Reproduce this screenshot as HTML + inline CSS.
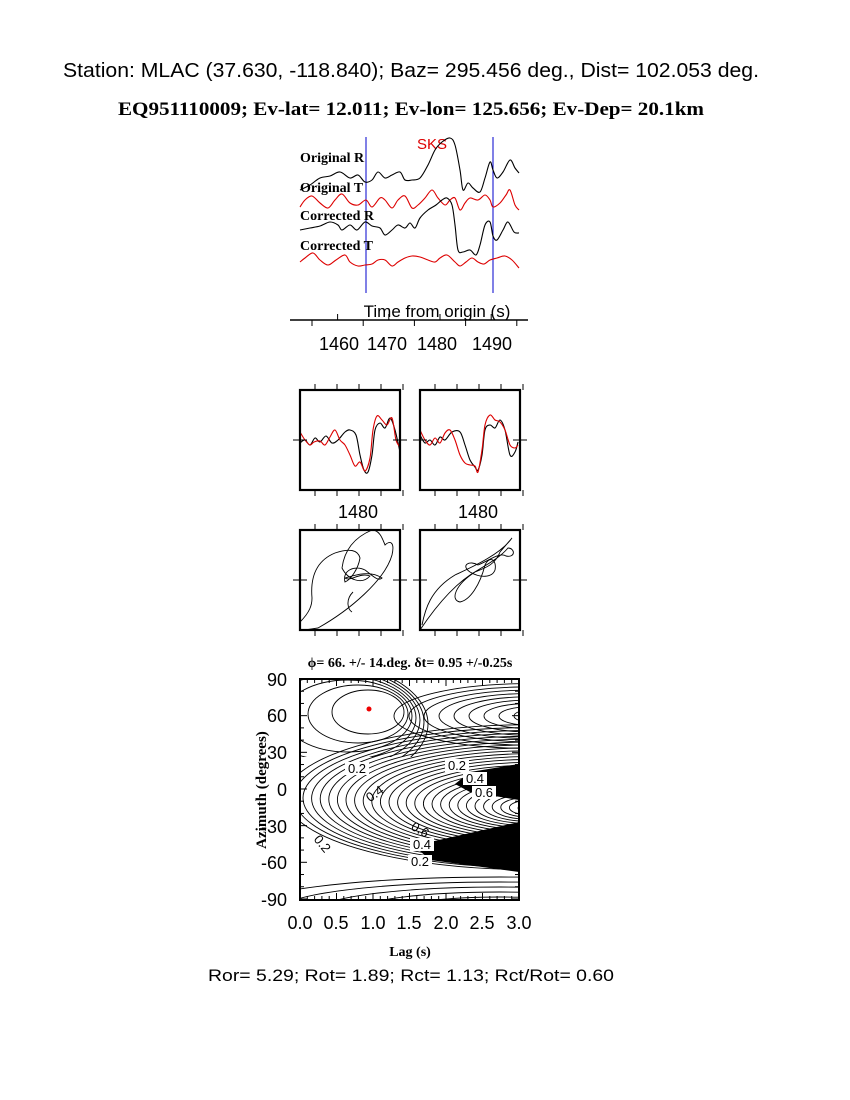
<!DOCTYPE html>
<html><head><meta charset="utf-8"><style>
html,body{margin:0;padding:0;background:#fff;width:850px;height:1100px;overflow:hidden}
svg{display:block}
.s{font-family:"Liberation Sans",sans-serif}
.r{font-family:"Liberation Serif",serif;font-weight:bold}
</style></head><body>
<svg id="g" width="850" height="1100" xmlns="http://www.w3.org/2000/svg">
<text class="s" x="411" y="77" font-size="20" text-anchor="middle" textLength="696" lengthAdjust="spacingAndGlyphs">Station: MLAC (37.630, -118.840); Baz=  295.456 deg., Dist=  102.053 deg.</text>
<text class="r" x="411" y="115" font-size="19" text-anchor="middle" textLength="586" lengthAdjust="spacingAndGlyphs">EQ951110009; Ev-lat=  12.011; Ev-lon= 125.656; Ev-Dep= 20.1km</text>

<line x1="366" y1="137" x2="366" y2="293" stroke="#00c" stroke-width="1"/>
<line x1="493" y1="137" x2="493" y2="293" stroke="#00c" stroke-width="1"/>
<text class="s" x="432" y="149" font-size="15" fill="#d00" text-anchor="middle">SKS</text>
<g fill="none" stroke-width="1.1">
<polyline class="sm" stroke="#000" points="300,190 310,185 320,178 330,176 340,172 350,178 358,175 365,182 372,180 378,172 385,178 392,175 400,172 405,180 412,180 420,178 428,165 435,150 442,142 450,138 455,145 460,170 463,190 468,183 473,188 480,192 485,178 490,162 493,170 497,178 503,172 510,160 515,168 519,173"/>
<polyline class="sm" stroke="#d00" points="300,207 305,200 312,196 320,203 328,208 335,200 342,194 350,203 358,205 366,200 372,207 380,198 385,200 392,208 398,200 405,196 412,208 418,205 425,198 432,190 438,198 445,205 450,200 455,198 460,210 465,203 470,198 478,200 485,195 490,200 493,207 500,203 506,195 510,190 515,205 519,210"/>
<polyline class="sm" stroke="#000" points="300,230 310,228 320,226 330,222 338,225 342,230 350,225 357,230 365,222 372,226 380,228 385,235 392,230 398,225 405,228 410,223 415,228 420,218 428,210 436,205 442,200 447,198 452,205 455,225 458,250 463,252 470,250 476,255 480,245 485,225 490,222 493,236 497,240 503,230 508,222 514,232 519,233"/>
<polyline class="sm" stroke="#d00" points="300,262 305,258 313,253 320,260 328,265 336,260 345,255 350,262 358,266 365,265 372,264 378,260 385,260 392,266 398,262 405,258 412,256 420,257 428,260 435,262 440,258 447,255 455,262 460,266 466,262 472,258 478,262 484,264 490,260 497,258 505,256 512,260 519,268"/>
</g>
<g class="r" font-size="14">
<text x="300" y="162">Original R</text>
<text x="300" y="192">Original T</text>
<text x="300" y="220">Corrected R</text>
<text x="300" y="250">Corrected T</text>
</g>
<text class="s" x="437" y="317" font-size="17" text-anchor="middle">Time from origin (s)</text>
<line x1="290" y1="320" x2="528" y2="320" stroke="#000" stroke-width="1.5"/>
<g stroke="#000" id="tt"></g>
<g class="s" font-size="18" text-anchor="middle">
<text x="339" y="350">1460</text><text x="387" y="350">1470</text><text x="437" y="350">1480</text><text x="492" y="350">1490</text>
</g>

<g fill="none" stroke-width="1.1">
<polyline class="sm" stroke="#000" points="300,443 305,440 310,445 315,438 320,442 326,436 332,443 338,440 345,432 350,430 356,435 360,455 364,470 368,472 372,455 375,430 380,423 385,428 390,418 395,430 400,452"/>
<polyline class="sm" stroke="#d00" points="300,432 305,440 310,445 314,442 320,441 325,445 330,437 335,430 340,440 345,445 350,455 355,466 360,462 365,471 370,458 373,430 377,416 382,420 387,425 392,418 396,440 400,447"/>
<polyline class="sm" stroke="#000" points="420,435 425,443 430,440 435,445 440,437 445,440 452,432 460,432 465,445 470,460 475,467 478,470 482,455 485,430 490,425 495,428 500,420 505,430 510,455 515,452 518,442"/>
<polyline class="sm" stroke="#d00" points="420,430 425,440 430,445 435,438 440,443 445,433 450,430 455,440 460,455 465,463 470,465 475,466 478,472 482,450 485,425 490,415 495,420 500,422 505,430 510,445 515,448 518,445"/>
<path stroke="#000" stroke-width="0.9" d="M300,622 C310,612 312,605 312,598 C310,575 318,560 335,553 C350,548 358,550 360,558 C358,570 350,580 345,582 C342,570 355,565 365,570 C372,575 378,582 382,578 C370,570 355,575 345,578 C350,582 360,572 370,576 C362,585 348,580 342,568 C345,545 360,535 372,530 C380,530 383,540 385,545 C390,540 395,542 392,555 C385,580 350,610 318,628 L305,630 M353,592 C345,600 348,610 352,612"/>
<path stroke="#000" stroke-width="0.9" d="M420,630 C440,600 460,580 478,570 C495,560 502,555 508,548 C515,548 516,558 506,556 C500,552 490,560 478,565 C470,560 460,565 470,572 C480,578 492,578 495,570 C497,560 490,555 485,565 C480,585 470,600 460,602 C450,600 455,585 475,572 C485,568 495,565 500,552 L512,538 C500,555 470,568 455,575 C430,590 425,610 422,625"/>
</g>
<g fill="none" stroke="#000" stroke-width="2.2">
<rect x="300" y="390" width="100" height="100"/>
<rect x="420" y="390" width="100" height="100"/>
<rect x="300" y="530" width="100" height="100"/>
<rect x="420" y="530" width="100" height="100"/>
</g>
<g stroke="#000" stroke-width="1" id="bt"></g>
<g class="s" font-size="18" text-anchor="middle">
<text x="358" y="518">1480</text><text x="478" y="518">1480</text>
</g>

<defs><clipPath id="cp"><rect x="300" y="679" width="219" height="221"/></clipPath>
<clipPath id="cpt"><rect x="300" y="679" width="219" height="78"/></clipPath>
<clipPath id="cpb"><rect x="300" y="870" width="219" height="30"/></clipPath></defs>
<g clip-path="url(#cp)" fill="none" stroke="#000" stroke-width="0.9" id="ct">
<polygon fill="#000" stroke="none" points="470,772 519,764 519,800 470,792 455,784"/>
<polygon fill="#000" stroke="none" points="430,842 519,822 519,872 430,860 420,851"/>
</g>
<g clip-path="url(#cpt)" fill="none" stroke="#000" stroke-width="0.9" id="ctt"></g>
<g clip-path="url(#cpb)" fill="none" stroke="#000" stroke-width="0.9" id="ctb"></g>
<g class="s" font-size="13" text-anchor="middle">
<rect x="345" y="762" width="24" height="13" fill="#fff"/><text x="357" y="773">0.2</text>
<rect x="445" y="759" width="24" height="13" fill="#fff"/><text x="457" y="770">0.2</text>
<rect x="463" y="772" width="24" height="13" fill="#fff"/><text x="475" y="783">0.4</text>
<rect x="472" y="786" width="24" height="13" fill="#fff"/><text x="484" y="797">0.6</text>
<text x="375" y="798" transform="rotate(-35 375 794)">0.4</text>
<text x="420" y="834" transform="rotate(30 420 830)">0.6</text>
<rect x="410" y="838" width="24" height="13" fill="#fff"/><text x="422" y="849">0.4</text>
<rect x="408" y="855" width="24" height="13" fill="#fff"/><text x="420" y="866">0.2</text>
<text x="322" y="848" transform="rotate(50 322 844)">0.2</text>
</g>
<circle cx="369" cy="709" r="2.5" fill="#e00"/>
<rect x="300" y="679" width="219" height="221" fill="none" stroke="#000" stroke-width="2"/>
<g stroke="#000" stroke-width="1" id="cticks"></g>
<text class="r" x="410" y="667" font-size="14" text-anchor="middle">ϕ= 66. +/- 14.deg. δt= 0.95 +/-0.25s</text>
<g class="s" font-size="18" text-anchor="end">
<text x="287" y="686">90</text><text x="287" y="722">60</text><text x="287" y="759">30</text><text x="287" y="796">0</text><text x="287" y="833">-30</text><text x="287" y="869">-60</text><text x="287" y="906">-90</text>
</g>
<g class="s" font-size="18" text-anchor="middle">
<text x="300" y="929">0.0</text><text x="336" y="929">0.5</text><text x="373" y="929">1.0</text><text x="409" y="929">1.5</text><text x="446" y="929">2.0</text><text x="482" y="929">2.5</text><text x="519" y="929">3.0</text>
</g>
<text class="r" x="266" y="790" font-size="15" text-anchor="middle" transform="rotate(-90 266 790)">Azimuth (degrees)</text>
<text class="r" x="410" y="956" font-size="14" text-anchor="middle">Lag (s)</text>
<text class="s" x="411" y="981" font-size="17" text-anchor="middle" textLength="406" lengthAdjust="spacingAndGlyphs">Ror= 5.29; Rot= 1.89; Rct= 1.13; Rct/Rot= 0.60</text>
</svg>
<script>
var NS="http://www.w3.org/2000/svg";
function L(g,x1,y1,x2,y2){var l=document.createElementNS(NS,"line");l.setAttribute("x1",x1);l.setAttribute("y1",y1);l.setAttribute("x2",x2);l.setAttribute("y2",y2);document.getElementById(g).appendChild(l);}
function E(g,cx,cy,rx,ry){var e=document.createElementNS(NS,"ellipse");e.setAttribute("cx",cx);e.setAttribute("cy",cy);e.setAttribute("rx",rx);e.setAttribute("ry",ry);document.getElementById(g).appendChild(e);}
for(var i=0;i<9;i++){var x=312+i*25.6;L("tt",x,320,x,i%2?314:326);}
[300,420].forEach(function(b){for(var i=0;i<5;i++){var x=b+15+i*22;L("bt",x,390,x,384);L("bt",x,490,x,496);L("bt",x,530,x,524);L("bt",x,630,x,636);}
L("bt",b-7,440,b+7,440);L("bt",b+93,440,b+107,440);L("bt",b-7,580,b+7,580);L("bt",b+93,580,b+107,580);});
for(var i=0;i<=30;i++){var x=300+i*7.3;var h=i%5?4:7;L("cticks",x,679,x,679+h);L("cticks",x,900,x,900-h);}
for(var i=0;i<=18;i++){var y=679+i*12.22;var h=i%3?4:7;L("cticks",300,y,300+h,y);L("cticks",519,y,519-h,y);}
for(var k=0;k<7;k++)E("ctt",368-k*10,712+k*2,36+k*14,22+k*7);
for(var k=0;k<9;k++)E("ctt",530,716,16+k*15,6+k*3.3);
for(var k=0;k<28;k++)E("ct",530,808-k*0.4,12+k*8.6,5+k*2.5);
for(var k=0;k<6;k++)E("ctb",500,910,60+k*40,8+k*5);
document.querySelectorAll("polyline.sm").forEach(function(pl){
 var p=pl.getAttribute("points").trim().split(/\s+/).map(function(s){return s.split(",").map(Number);});
 var d="M"+p[0][0]+","+p[0][1];
 for(var i=0;i<p.length-1;i++){var p0=p[i-1]||p[i],p1=p[i],p2=p[i+1],p3=p[i+2]||p2;
  d+=" C"+(p1[0]+(p2[0]-p0[0])/6)+","+(p1[1]+(p2[1]-p0[1])/6)+" "+(p2[0]-(p3[0]-p1[0])/6)+","+(p2[1]-(p3[1]-p1[1])/6)+" "+p2[0]+","+p2[1];}
 var pa=document.createElementNS(NS,"path");pa.setAttribute("d",d);pa.setAttribute("stroke",pl.getAttribute("stroke"));pa.setAttribute("fill","none");pa.setAttribute("stroke-width","1.1");
 pl.parentNode.replaceChild(pa,pl);});
</script>
</body></html>
